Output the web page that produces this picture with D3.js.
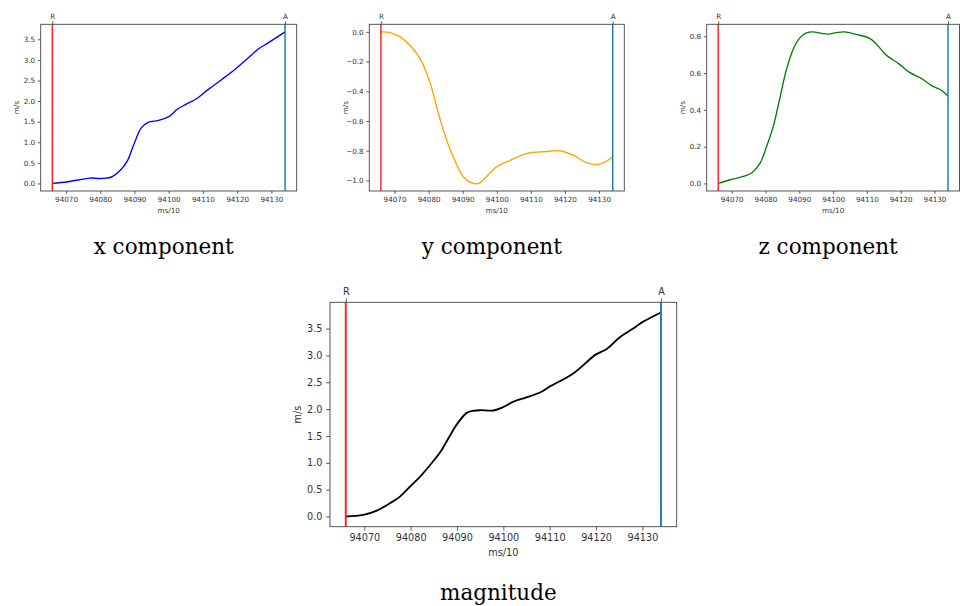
<!DOCTYPE html>
<html>
<head>
<meta charset="utf-8">
<script src="https://cdn.jsdelivr.net/npm/d3@7"></script>
<style>
  body { margin: 0; background: #fff; }
  svg text { font-family: "DejaVu Sans", sans-serif; }
</style>
</head>
<body>
<div id="chart"></div>
<script>
// time stamps (ms/10) and readings for each component
const xTime = [94066, 94070.5, 94075.3, 94077, 94080.2, 94083.1, 94086, 94088, 94090, 94092, 94094, 94097, 94100, 94102.5, 94105, 94108, 94111.7, 94115.6, 94119.5, 94123.4, 94126.3, 94129.2, 94134];
const xVals = [0.0, 0.04, 0.11, 0.13, 0.12, 0.15, 0.33, 0.56, 0.99, 1.35, 1.48, 1.53, 1.62, 1.80, 1.92, 2.05, 2.29, 2.53, 2.78, 3.06, 3.27, 3.42, 3.68];

const yTime = [94066, 94068.7, 94071.6, 94074.5, 94077.5, 94080.4, 94082.3, 94084.3, 94087.2, 94090.2, 94093.1, 94095, 94098, 94100, 94103.8, 94108.7, 94114.6, 94118.5, 94122.4, 94126.3, 94129.7, 94132.2, 94134];
const yVals = [0.0, -0.005, -0.034, -0.09, -0.18, -0.34, -0.50, -0.66, -0.84, -0.975, -1.02, -1.016, -0.95, -0.907, -0.866, -0.82, -0.805, -0.80, -0.83, -0.88, -0.893, -0.87, -0.843];

const zTime = [94066, 94069.5, 94073.5, 94075.9, 94078.4, 94080.3, 94082.3, 94084.2, 94086.2, 94088.2, 94090.1, 94092.1, 94094, 94096.5, 94098.5, 94100.9, 94103.4, 94106.8, 94110.7, 94112.7, 94115.6, 94119.5, 94122.5, 94126.4, 94129.3, 94132.3, 94134];
const zVals = [0.0, 0.02, 0.038, 0.057, 0.11, 0.20, 0.31, 0.46, 0.62, 0.73, 0.79, 0.818, 0.824, 0.816, 0.812, 0.82, 0.824, 0.81, 0.79, 0.76, 0.70, 0.65, 0.605, 0.568, 0.53, 0.504, 0.473];

const mTime = [94066, 94069.8, 94072.7, 94075.6, 94077.7, 94079.9, 94082, 94084.2, 94086.4, 94088.5, 94090, 94092.1, 94093.6, 94095, 94097.9, 94100, 94102.2, 94105, 94107.9, 94110, 94115, 94120, 94122.3, 94125, 94128, 94130, 94134];
const mVals = [0.0, 0.03, 0.11, 0.25, 0.37, 0.56, 0.74, 0.96, 1.20, 1.51, 1.72, 1.93, 1.97, 1.98, 1.975, 2.04, 2.14, 2.22, 2.31, 2.42, 2.66, 3.02, 3.12, 3.33, 3.50, 3.62, 3.80];

const rMark = 94066;
const aMark = 94134;
const timeTicks = [94070, 94080, 94090, 94100, 94110, 94120, 94130];
const xTicks = [0, 0.5, 1.0, 1.5, 2.0, 2.5, 3.0, 3.5];
const yTicks = [0, -0.2, -0.4, -0.6, -0.8, -1.0];
const zTicks = [0, 0.2, 0.4, 0.6, 0.8];
const mTicks = [0, 0.5, 1.0, 1.5, 2.0, 2.5, 3.0, 3.5];
const captions = ["x component", "y component", "z component", "magnitude"];

const width = 963, height = 606;
const svg = d3.select("#chart").append("svg")
    .attr("width", width)
    .attr("height", height);

function pad(ext) {
    const d = (ext[1] - ext[0]) * 0.05;
    return [ext[0] - d, ext[1] + d];
}

function fmt(v) {
    return d3.format(".1f")(v).replace("-", "\u2212");
}

// one matplotlib style panel
function panel(box, time, vals, ticks, color, fs, caption, capY) {
    const g = svg.append("g");
    const x = d3.scaleLinear().domain(pad(d3.extent(time))).range([box.left, box.right]);
    const y = d3.scaleLinear().domain(pad(d3.extent(vals))).range([box.bottom, box.top]);
    const tick = fs * 0.4;
    const gap = fs * 0.38;

    const xa = g.append("g")
        .attr("transform", `translate(0,${box.bottom})`)
        .call(d3.axisBottom(x).tickValues(timeTicks).tickFormat(d3.format("d")).tickSize(tick).tickPadding(gap));
    const ya = g.append("g")
        .attr("transform", `translate(${box.left},0)`)
        .call(d3.axisLeft(y).tickValues(ticks).tickFormat(fmt).tickSize(tick).tickPadding(gap));
    const ta = g.append("g")
        .attr("transform", `translate(0,${box.top})`)
        .call(d3.axisTop(x).tickValues([rMark, aMark]).tickFormat((d, i) => i ? "A" : "R").tickSize(tick).tickPadding(gap));
    [xa, ya, ta].forEach(a => {
        a.select(".domain").remove();
        a.selectAll("line").attr("stroke", "#333").attr("stroke-width", 0.8);
        a.selectAll("text").attr("font-size", fs).attr("fill", "#333");
    });

    const line = d3.line().x((d, i) => x(time[i])).y(d => y(d)).curve(d3.curveCatmullRom);
    g.append("path")
        .datum(vals)
        .attr("d", line)
        .attr("fill", "none")
        .attr("stroke", color)
        .attr("stroke-width", fs * 0.19);

    g.append("line")
        .attr("x1", x(rMark)).attr("x2", x(rMark))
        .attr("y1", box.top).attr("y2", box.bottom)
        .attr("stroke", "#ff2020").attr("stroke-width", fs * 0.2);
    g.append("line")
        .attr("x1", x(aMark)).attr("x2", x(aMark))
        .attr("y1", box.top).attr("y2", box.bottom)
        .attr("stroke", "#1f77b4").attr("stroke-width", fs * 0.2);

    g.append("rect")
        .attr("x", box.left).attr("y", box.top)
        .attr("width", box.right - box.left).attr("height", box.bottom - box.top)
        .attr("fill", "none").attr("stroke", "#444").attr("stroke-width", 0.9);

    g.append("text")
        .attr("x", (box.left + box.right) / 2)
        .attr("y", box.bottom + fs * 3.0)
        .attr("text-anchor", "middle")
        .attr("font-size", fs)
        .attr("fill", "#333")
        .text("ms/10");
    g.append("text")
        .attr("transform", `translate(${box.left - fs * 3.0},${(box.top + box.bottom) / 2}) rotate(-90)`)
        .attr("text-anchor", "middle")
        .attr("font-size", fs)
        .attr("fill", "#333")
        .text("m/s");

    svg.append("text")
        .attr("x", (box.left + box.right) / 2 - 5)
        .attr("y", capY)
        .attr("text-anchor", "middle")
        .style("font-family", "'DejaVu Serif', serif")
        .attr("font-size", 21.5)
        .attr("fill", "#000")
        .text(caption);
}

panel({left: 40.7, right: 296.7, top: 24.3, bottom: 191}, xTime, xVals, xTicks, "#0000ff", 7.2, captions[0], 254);
panel({left: 369.3, right: 624.3, top: 24.3, bottom: 191}, yTime, yVals, yTicks, "#ffa500", 7.2, captions[1], 254);
panel({left: 706.7, right: 959.5, top: 24.3, bottom: 191}, zTime, zVals, zTicks, "#008000", 7.2, captions[2], 254);
panel({left: 330, right: 676.7, top: 302.3, bottom: 526.7}, mTime, mVals, mTicks, "#000000", 9.7, captions[3], 600);
</script>
</body>
</html>
